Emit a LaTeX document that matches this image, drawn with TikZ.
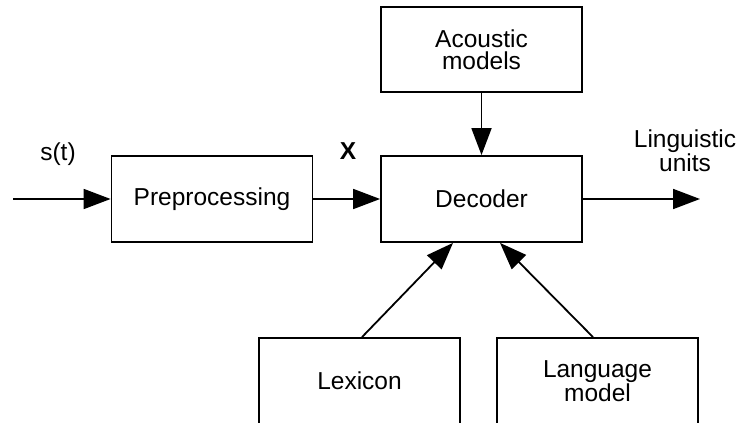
\documentclass[tikz,border=0pt]{standalone}
\usepackage{fontspec}
\setmainfont{Liberation Sans}
\usetikzlibrary{arrows.meta}

\tikzset{
  blk/.style={draw, rectangle, line width=1.8pt, inner sep=0pt,
              minimum width=201pt, minimum height=86pt, align=center,
              font=\fontsize{24.5}{22}\selectfont},
  lbl/.style={inner sep=0pt, align=center, font=\fontsize{24.5}{22}\selectfont},
  flow/.style={line width=1.8pt, -{Triangle[length=27pt,width=20pt]}},
}

\begin{document}
\begin{tikzpicture}[x=1pt, y=-1pt]
  \useasboundingbox (0,0) rectangle (737,423);
  \clip (0,0) rectangle (737,423);

  % processing blocks
  \node[blk] (pre) at (212,199) {Preprocessing};
  \node[blk] (dec) at (481.5,199) {Decoder};
  \node[blk, minimum height=85pt] (ac) at (481.5,49.5) {Acoustic\\models};
  \node[blk] (lex) at (359.5,381) {Lexicon};
  \node[blk] (lm) at (597.5,381) {Language\\model};

  % free ends of the signal path
  \coordinate (src) at (13,199);
  \coordinate (out) at (700,199);

  % labels
  \node[lbl, anchor=base] (st) at (58,160) {s(t)};
  \node[lbl, anchor=base, font=\fontsize{24.5}{22}\selectfont\bfseries] (xv) at (348,159) {X};
  \node[lbl] (lu) at (685,151) {Linguistic\\units};

  % connectors
  \draw[flow] (src) -- (pre.west);
  \draw[flow] (pre.east) -- (dec.west);
  \draw[flow] (ac.south) -- (dec.north);
  \draw[flow] (dec.east) -- (out);
  \draw[flow] ([xshift=2.5pt]lex.north) -- ([xshift=-28.5pt]dec.south);
  \draw[flow] ([xshift=-4.5pt]lm.north) -- ([xshift=18.5pt]dec.south);
\end{tikzpicture}
\end{document}
